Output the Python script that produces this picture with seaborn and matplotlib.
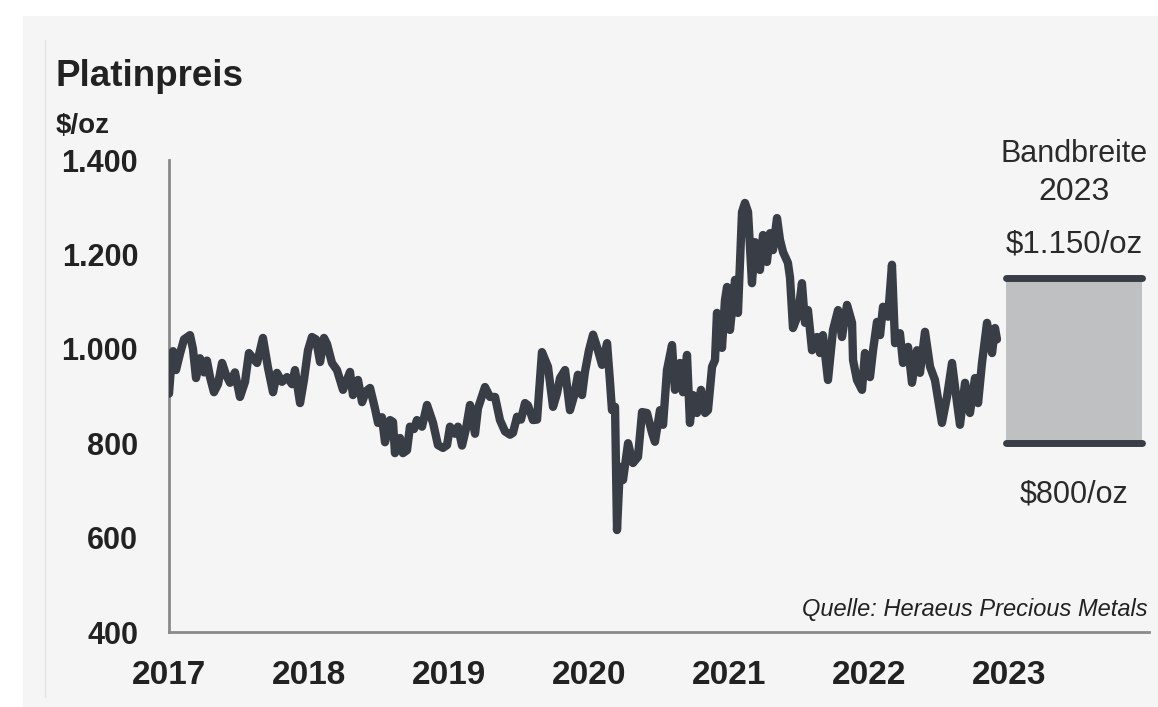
import numpy as np
import pandas as pd
import matplotlib
matplotlib.use("Agg")
import matplotlib.pyplot as plt
import seaborn as sns
from matplotlib.patches import Rectangle
from matplotlib.lines import Line2D
from matplotlib.ticker import FuncFormatter

# Platinum price, $/oz, sampled along the time axis (years after 1 Jan 2017)
years_since_2017 = [
    0.000, 0.014, 0.029, 0.050, 0.079, 0.107, 0.150, 0.171, 0.193, 0.221,
    0.250, 0.271, 0.293, 0.321, 0.350, 0.379, 0.407, 0.436, 0.471, 0.507,
    0.543, 0.571, 0.600, 0.629, 0.671, 0.707, 0.743, 0.771, 0.807, 0.843,
    0.879, 0.900, 0.936, 0.964, 0.993, 1.021, 1.050, 1.079, 1.107, 1.129,
    1.164, 1.200, 1.243, 1.293, 1.314, 1.350, 1.379, 1.407, 1.436, 1.471,
    1.493, 1.521, 1.543, 1.579, 1.600, 1.614, 1.650, 1.671, 1.700, 1.721,
    1.750, 1.771, 1.807, 1.843, 1.886, 1.921, 1.957, 1.986, 2.007, 2.043,
    2.064, 2.093, 2.121, 2.150, 2.186, 2.207, 2.257, 2.293, 2.329, 2.364,
    2.400, 2.436, 2.457, 2.486, 2.514, 2.543, 2.564, 2.600, 2.629, 2.664,
    2.707, 2.743, 2.771, 2.793, 2.829, 2.864, 2.893, 2.921, 2.950, 2.971,
    3.000, 3.029, 3.057, 3.093, 3.129, 3.150, 3.164, 3.186, 3.200, 3.221,
    3.243, 3.279, 3.314, 3.350, 3.379, 3.414, 3.450, 3.471, 3.507, 3.529,
    3.557, 3.593, 3.614, 3.650, 3.671, 3.700, 3.721, 3.743, 3.771, 3.800,
    3.829, 3.850, 3.879, 3.900, 3.914, 3.936, 3.950, 3.971, 3.986, 4.007,
    4.043, 4.064, 4.093, 4.114, 4.136, 4.164, 4.186, 4.221, 4.243, 4.271,
    4.293, 4.314, 4.343, 4.364, 4.386, 4.421, 4.436, 4.457, 4.493, 4.521,
    4.543, 4.564, 4.593, 4.629, 4.650, 4.671, 4.707, 4.743, 4.779, 4.807,
    4.843, 4.879, 4.886, 4.914, 4.950, 4.971, 5.007, 5.029, 5.057, 5.079,
    5.100, 5.136, 5.164, 5.186, 5.221, 5.243, 5.279, 5.307, 5.343, 5.364,
    5.400, 5.436, 5.471, 5.521, 5.557, 5.593, 5.629, 5.650, 5.686, 5.721,
    5.757, 5.779, 5.807, 5.843, 5.879, 5.900, 5.914,
]
price_usd_oz = [
    905, 960, 995, 955, 990, 1020, 1029, 1000, 938, 980,
    950, 975, 940, 908, 925, 970, 945, 928, 950, 898,
    930, 991, 980, 970, 1023, 960, 908, 949, 930, 940,
    925, 955, 885, 934, 997, 1025, 1020, 972, 1023, 1010,
    970, 955, 913, 951, 902, 934, 887, 910, 917, 874,
    843, 855, 802, 849, 845, 779, 811, 779, 785, 835,
    830, 849, 835, 881, 843, 796, 790, 796, 835, 820,
    835, 795, 830, 881, 820, 874, 919, 898, 898, 849,
    825, 818, 822, 856, 850, 885, 880, 849, 850, 993,
    962, 877, 905, 938, 955, 870, 900, 945, 902, 951,
    997, 1030, 1004, 966, 1012, 930, 870, 877, 616, 750,
    722, 800, 758, 771, 866, 864, 822, 803, 870, 839,
    955, 1008, 913, 970, 908, 987, 843, 902, 864, 913,
    864, 870, 962, 976, 1076, 1040, 1002, 1103, 1131, 1040,
    1146, 1076, 1290, 1309, 1290, 1139, 1226, 1167, 1241, 1184,
    1245, 1209, 1277, 1231, 1205, 1182, 1150, 1044, 1072, 1139,
    1055, 1082, 997, 1025, 991, 1029, 934, 1040, 1082, 1025,
    1093, 1055, 976, 934, 913, 991, 940, 997, 1057, 1029,
    1089, 1068, 1178, 1012, 1033, 970, 1004, 928, 997, 949,
    1036, 962, 934, 843, 898, 970, 885, 839, 928, 864,
    938, 885, 970, 1055, 991, 1044, 1020,
]
year_ticks = [2017, 2018, 2019, 2020, 2021, 2022, 2023]
price_ticks = [400, 600, 800, 1000, 1200, 1400]
band_low = 800
band_high = 1150
band_label = "2023"

LINE = "#393d45"
AXIS = "#8a8a8a"
TEXT = "#222222"
PANEL = "#f5f5f5"

sns.set_theme(style="white")
plt.rcParams["font.family"] = ["Liberation Sans", "DejaVu Sans"]

W, H = 1158, 707
fig = plt.figure(figsize=(W / 100, H / 100), dpi=100, facecolor="white")

# light card behind the chart
fig.patches.append(Rectangle((23 / W, 0), 1 - 23 / W, (H - 16) / H,
                             transform=fig.transFigure, facecolor=PANEL,
                             edgecolor="none", zorder=-10))
fig.add_artist(Line2D([45 / W, 45 / W], [(H - 697) / H, (H - 40) / H],
                      transform=fig.transFigure, color="#e4e4e4", lw=1,
                      zorder=-9))

ax = fig.add_axes([169 / W, 75 / H, 980 / W, 472 / H])
ax.set_facecolor("none")
ax.set_zorder(1)

df = pd.DataFrame({"Jahr": 2017 + np.array(years_since_2017),
                   "Preis": price_usd_oz})
sns.lineplot(data=df, x="Jahr", y="Preis", ax=ax, color=LINE, linewidth=6,
             solid_joinstyle="round", solid_capstyle="round", zorder=3)

# 2023 forecast range
bx0, bx1 = 2022.98, 2023.95
ax.fill_between([bx0, bx1], band_low, band_high, color="#bfc0c2", lw=0, zorder=2)
for level in (band_low, band_high):
    ax.plot([bx0, bx1], [level, level], color=LINE, lw=5,
            solid_capstyle="round", zorder=3)
bxc = (bx0 + bx1) / 2
ax.text(bxc, 1396, "Bandbreite", ha="center", va="baseline", fontsize=22, color="#2a2a2a")
ax.text(bxc, 1315, band_label, ha="center", va="baseline", fontsize=23, color="#2a2a2a")
ax.text(bxc, 1203, f"${band_high:,}/oz".replace(",", "."), ha="center",
        va="baseline", fontsize=22.5, color="#2a2a2a")
ax.text(bxc, 675, f"${band_low}/oz", ha="center", va="baseline",
        fontsize=22, color="#2a2a2a")

ax.text(2023.993, 434, "Quelle: Heraeus Precious Metals", ha="right",
        va="baseline", fontsize=17, style="italic", color=TEXT)

ax.set_xlim(2017, 2024)
ax.set_ylim(400, 1400)
ax.set_xticks(year_ticks)
ax.set_yticks(price_ticks)
ax.yaxis.set_major_formatter(FuncFormatter(lambda v, p: f"{int(v):,}".replace(",", ".")))
ax.set_xlabel("")
ax.set_ylabel("")

for side in ("top", "right"):
    ax.spines[side].set_visible(False)
for side in ("left", "bottom"):
    ax.spines[side].set_color(AXIS)
    ax.spines[side].set_linewidth(2)

ax.tick_params(axis="both", direction="out", length=7.2, width=2, color=AXIS,
               labelcolor=TEXT)
ax.tick_params(axis="y", pad=15, labelsize=22)
ax.tick_params(axis="x", pad=13, labelsize=24)
for lab in ax.get_xticklabels() + ax.get_yticklabels():
    lab.set_fontweight("bold")

fig.text(55 / W, 1 - 86 / H, "Platinpreis", fontsize=26.5, fontweight="bold",
         va="baseline", ha="left", color=TEXT)
fig.text(56 / W, 1 - 133 / H, "$/oz", fontsize=20, fontweight="bold",
         va="baseline", ha="left", color=TEXT)

fig.savefig("out.png", dpi=100, facecolor="white")
